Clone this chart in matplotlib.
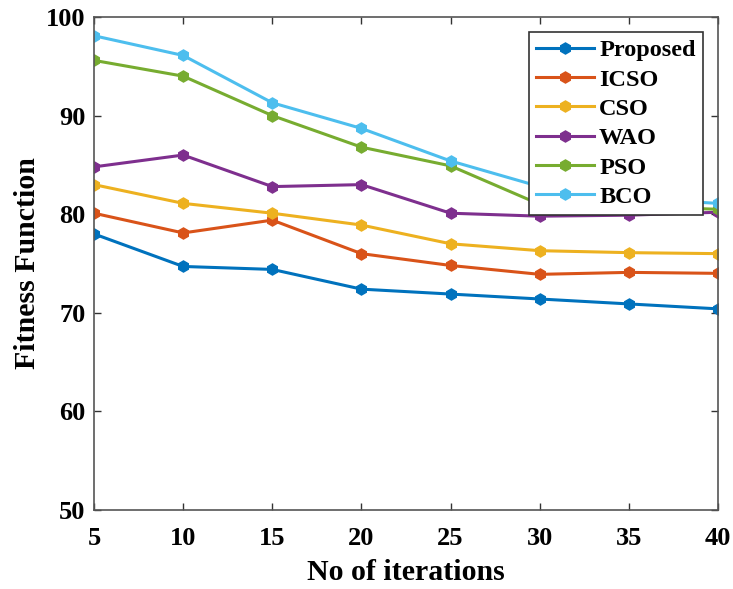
import matplotlib
matplotlib.use('Agg')
from matplotlib import pyplot as plt

iterations = [5, 10, 15, 20, 25, 30, 35, 40]
proposed = [78.0, 74.7, 74.4, 72.4, 71.9, 71.4, 70.9, 70.4]
icso = [80.1, 78.1, 79.4, 76.0, 74.8, 73.9, 74.1, 74.0]
cso = [83.0, 81.1, 80.1, 78.9, 77.0, 76.3, 76.1, 76.0]
wao = [84.8, 86.0, 82.8, 83.0, 80.1, 79.8, 79.9, 80.2]
pso = [95.6, 94.0, 90.0, 86.8, 84.9, 81.0, 80.8, 80.5]
bco = [98.1, 96.1, 91.3, 88.7, 85.4, 82.8, 81.6, 81.1]
names = ['Proposed', 'ICSO', 'CSO', 'WAO', 'PSO', 'BCO']
colors = ['#0072BD', '#D95319', '#EDB120', '#7E2F8E', '#77AC30', '#4DBEEE']

plt.rcParams['font.family'] = ['Liberation Serif', 'DejaVu Serif']
plt.rcParams['font.weight'] = 'bold'

fig = plt.figure(figsize=(7.33, 5.89), dpi=100)
ax = fig.add_axes([94 / 733, 1 - 510 / 589, 624 / 733, 493 / 589])

for name, vals, c in zip(names, [proposed, icso, cso, wao, pso, bco], colors):
    ax.plot(iterations, vals, color=c, linewidth=2.2, marker='h',
            markersize=8, label=name)

ax.set_xlim(5, 40)
ax.set_ylim(50, 100)
ax.set_xticks(iterations)
ax.set_yticks(range(50, 101, 10))
ax.tick_params(direction='in', top=True, right=True, labelsize=19,
               length=5, width=1, color='#333333')
ax.tick_params(axis='x', pad=12)
ax.tick_params(axis='y', pad=6)
for lbl in ax.get_xticklabels() + ax.get_yticklabels():
    lbl.set_fontweight('bold')
for s in ax.spines.values():
    s.set_color('#555555')
    s.set_linewidth(1.2)
ax.set_xlabel('No of iterations', fontsize=21.5, fontweight='bold', labelpad=7)
ax.set_ylabel('Fitness Function', fontsize=21.5, fontweight='bold', labelpad=4)

leg = ax.legend(loc='upper right', fontsize=17.5, frameon=True, fancybox=False,
                handlelength=2.4, borderpad=0.3, labelspacing=0.3,
                handletextpad=0.2, borderaxespad=0.62)
leg.get_frame().set_edgecolor('#333333')
leg.get_frame().set_linewidth(1.2)
leg.get_frame().set_alpha(1)
for t in leg.get_texts():
    t.set_fontweight('bold')

fig.savefig('out.png', dpi=100)
plt.close()
